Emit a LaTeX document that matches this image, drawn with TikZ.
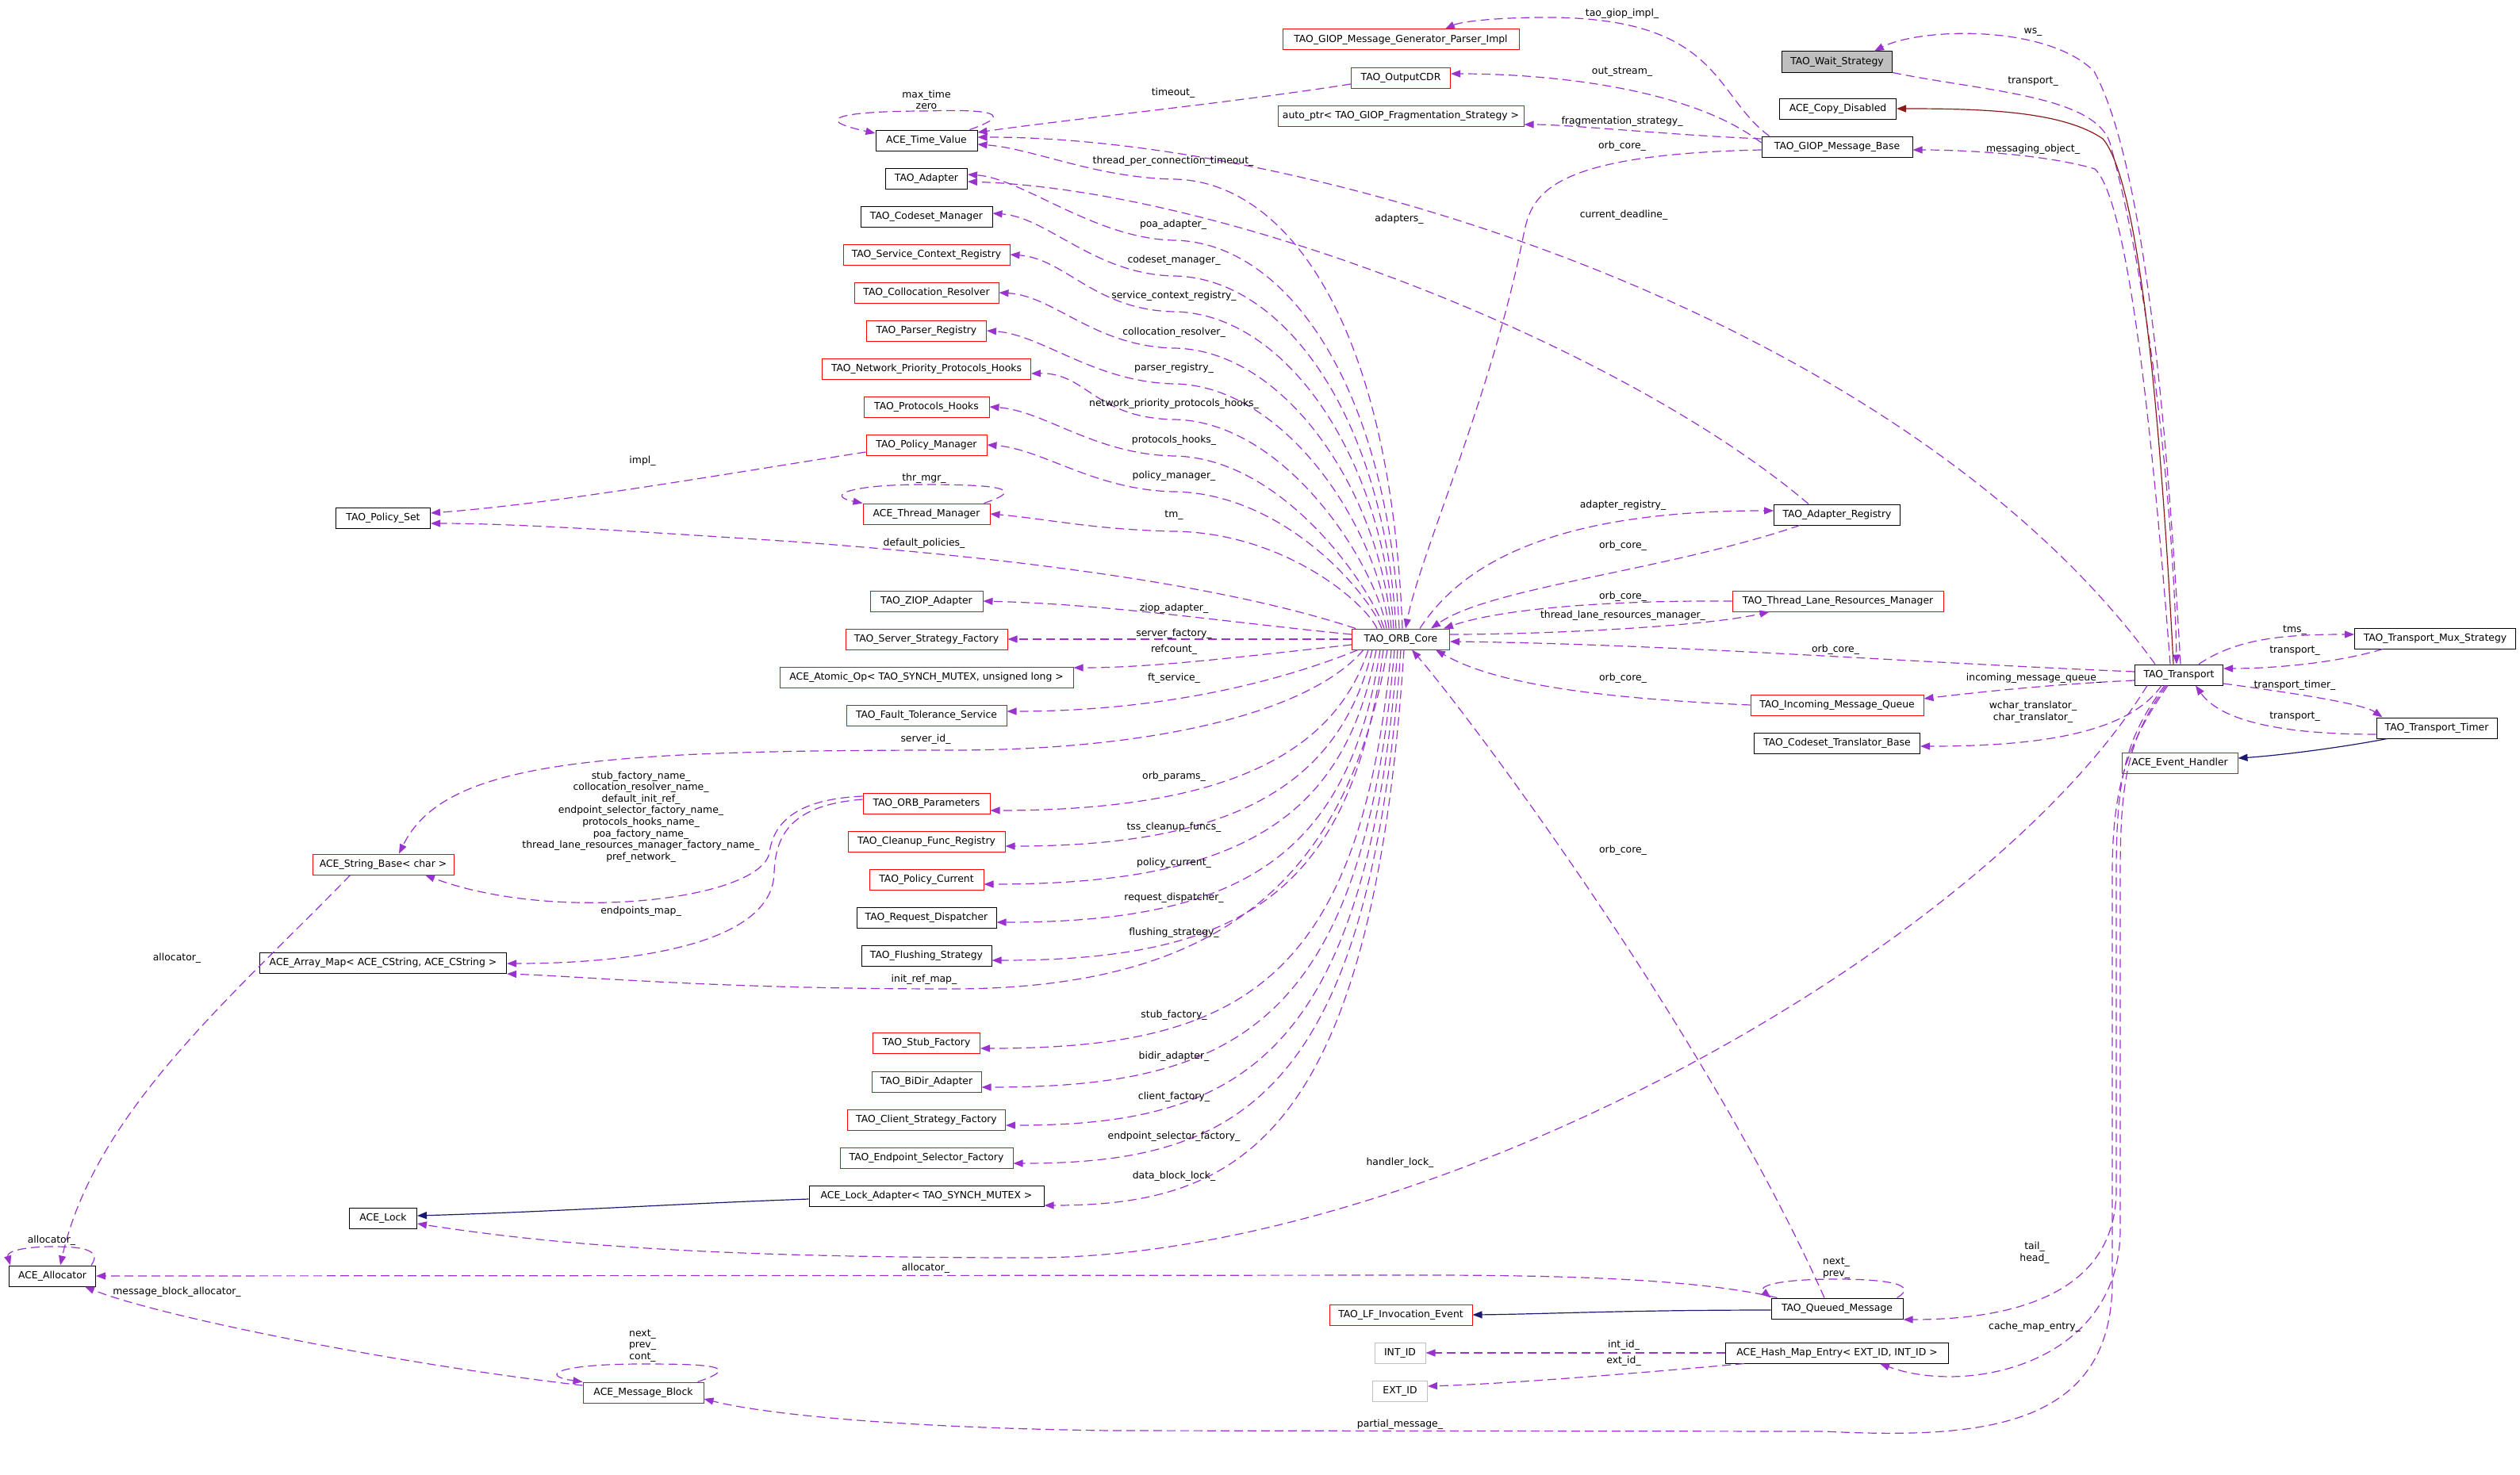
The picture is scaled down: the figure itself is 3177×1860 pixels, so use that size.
\documentclass[tikz,border=0pt]{standalone}
\usepackage{fontspec}
\setmainfont{DejaVu Sans}
\usetikzlibrary{arrows.meta,calc}
\definecolor{dorchid}{HTML}{9A32CD}
\definecolor{navyb}{HTML}{191970}
\definecolor{fbrick}{HTML}{8B1A1A}
\definecolor{grayb}{HTML}{BFBFBF}
\newcommand\dxf{\fontsize{12.4}{14.6}\selectfont}
\tikzset{
  clsbox/.style={draw=black, line width=1.0pt, fill=white, inner sep=0pt, minimum height=26pt, font=\dxf},
  cb/.style={clsbox},
  cr/.style={clsbox, draw=red},
  cg/.style={clsbox, draw=grayb},
  cf/.style={clsbox, fill=grayb},
  lb/.style={font=\dxf, inner sep=0pt, align=center},
  dep/.style={draw=dorchid, line width=1.2pt, dash pattern=on 11pt off 6pt, -{Triangle[length=12pt,width=9pt]}},
  inhn/.style={draw=navyb, line width=1.2pt, -{Triangle[length=12pt,width=9pt]}},
  inhr/.style={draw=fbrick, line width=1.2pt, -{Triangle[length=12pt,width=9pt]}},
}
\begin{document}
\begin{tikzpicture}[x=1pt,y=-1pt]
\fill[white] (0,0) rectangle (3177,1860);
\useasboundingbox (0,0) rectangle (3177,1860);

% ---------- nodes ----------
\node[cb, minimum width=128pt] (tv)   at (1168,177)  {ACE\_Time\_Value};
\node[cb, minimum width=103pt] (tad)  at (1168,225)  {TAO\_Adapter};
\node[cb, minimum width=166pt] (tcm)  at (1168,273)  {TAO\_Codeset\_Manager};
\node[cr, minimum width=210pt] (scr)  at (1168,321)  {TAO\_Service\_Context\_Registry};
\node[cr, minimum width=182pt] (clr)  at (1168,369)  {TAO\_Collocation\_Resolver};
\node[cr, minimum width=151pt] (prr)  at (1168,417)  {TAO\_Parser\_Registry};
\node[cr, minimum width=263pt] (nph)  at (1168,465)  {TAO\_Network\_Priority\_Protocols\_Hooks};
\node[cr, minimum width=158pt] (phk)  at (1168,513)  {TAO\_Protocols\_Hooks};
\node[cr, minimum width=152pt] (pmg)  at (1168,561)  {TAO\_Policy\_Manager};
\node[cr, minimum width=160pt] (thm)  at (1168,648)  {ACE\_Thread\_Manager};
\node[cb, minimum width=119pt] (pset) at (483,653)   {TAO\_Policy\_Set};
\node[cr, minimum width=142pt] (ziop) at (1168,758)  {TAO\_ZIOP\_Adapter};
\node[cr, minimum width=204pt] (ssf)  at (1168,806)  {TAO\_Server\_Strategy\_Factory};
\node[cr, minimum width=370pt] (aop)  at (1168,854)  {ACE\_Atomic\_Op< TAO\_SYNCH\_MUTEX, unsigned long >};
\node[cr, minimum width=202pt] (fts)  at (1168,902)  {TAO\_Fault\_Tolerance\_Service};
\node[cr, minimum width=160pt] (opar) at (1168,1013) {TAO\_ORB\_Parameters};
\node[cr, minimum width=178pt] (sbase) at (483,1090) {ACE\_String\_Base< char >};
\node[cr, minimum width=198pt] (cfr)  at (1168,1061) {TAO\_Cleanup\_Func\_Registry};
\node[cr, minimum width=144pt] (pcur) at (1168,1109) {TAO\_Policy\_Current};
\node[cb, minimum width=176pt] (rdis) at (1168,1157) {TAO\_Request\_Dispatcher};
\node[cb, minimum width=164pt] (fls)  at (1168,1205) {TAO\_Flushing\_Strategy};
\node[cb, minimum width=311pt] (amap) at (483,1214)  {ACE\_Array\_Map< ACE\_CString, ACE\_CString >};
\node[cr, minimum width=135pt] (stub) at (1168,1315) {TAO\_Stub\_Factory};
\node[cr, minimum width=138pt] (bidir) at (1168,1364) {TAO\_BiDir\_Adapter};
\node[cr, minimum width=199pt] (csf)  at (1168,1412) {TAO\_Client\_Strategy\_Factory};
\node[cr, minimum width=218pt] (esf)  at (1168,1460) {TAO\_Endpoint\_Selector\_Factory};
\node[cb, minimum width=296pt] (ladp) at (1168,1508) {ACE\_Lock\_Adapter< TAO\_SYNCH\_MUTEX >};
\node[cb, minimum width=85pt]  (lock) at (483,1536)  {ACE\_Lock};
\node[cb, minimum width=109pt] (alloc) at (66,1609)  {ACE\_Allocator};
\node[cr, minimum width=152pt] (mblk) at (811,1756)  {ACE\_Message\_Block};
\node[cr, minimum width=123pt] (orb)  at (1766,806)  {TAO\_ORB\_Core};
\node[cr, minimum width=298pt] (gpi)  at (1766,50)   {TAO\_GIOP\_Message\_Generator\_Parser\_Impl};
\node[cr, minimum width=125pt] (ocdr) at (1766,98)   {TAO\_OutputCDR};
\node[cr, minimum width=310pt] (aptr) at (1766,146)  {auto\_ptr< TAO\_GIOP\_Fragmentation\_Strategy >};
\node[cr, minimum width=180pt] (lfie) at (1766,1658) {TAO\_LF\_Invocation\_Event};
\node[cg, minimum width=64pt]  (intid) at (1765,1706) {INT\_ID};
\node[cg, minimum width=69pt]  (extid) at (1765,1754) {EXT\_ID};
\node[cf, minimum width=139pt] (ws)   at (2316,78)   {TAO\_Wait\_Strategy};
\node[cb, minimum width=147pt] (cpd)  at (2317,137)  {ACE\_Copy\_Disabled};
\node[cb, minimum width=190pt] (gmb)  at (2316,185)  {TAO\_GIOP\_Message\_Base};
\node[cb, minimum width=159pt] (areg) at (2316,649)  {TAO\_Adapter\_Registry};
\node[cr, minimum width=266pt] (tlrm) at (2317,758)  {TAO\_Thread\_Lane\_Resources\_Manager};
\node[cr, minimum width=218pt] (imq)  at (2316,889)  {TAO\_Incoming\_Message\_Queue};
\node[cb, minimum width=209pt] (ctb)  at (2316,937)  {TAO\_Codeset\_Translator\_Base};
\node[cb, minimum width=166pt] (qm)   at (2316,1650) {TAO\_Queued\_Message};
\node[cb, minimum width=281pt] (hme)  at (2316,1706) {ACE\_Hash\_Map\_Entry< EXT\_ID, INT\_ID >};
\node[cb, minimum width=111pt] (tr)   at (2747,851)  {TAO\_Transport};
\node[cb, minimum width=203pt] (tms)  at (3070,805)  {TAO\_Transport\_Mux\_Strategy};
\node[cb, minimum width=152pt] (ttim) at (3072,918)  {TAO\_Transport\_Timer};
\node[cr, minimum width=146pt] (evh)  at (2748,962)  {ACE\_Event\_Handler};

% ---------- ORB core upper fan ----------
\draw[dep] ($(orb.north)+(2,0)$) .. controls (1753,403) and (1620,228) .. (1480,226) .. controls (1380,224) and (1302,187) .. ($(tv.east)+(0,5)$);
\draw[dep] ($(orb.north)+(-2,0)$) .. controls (1749,483) and (1620,305) .. (1480,303) .. controls (1380,301) and (1290,225) .. ($(tad.east)+(0,-5)$);
\draw[dep] ($(orb.north)+(-6,0)$) .. controls (1745,528) and (1620,350) .. (1480,348) .. controls (1380,346) and (1321,274) .. ($(tcm.east)+(0,-4)$);
\draw[dep] ($(orb.north)+(-9,0)$) .. controls (1742,573) and (1620,395) .. (1480,393) .. controls (1380,391) and (1343,326) .. (scr.east);
\draw[dep] ($(orb.north)+(-12,0)$) .. controls (1739,619) and (1620,441) .. (1480,439) .. controls (1380,437) and (1329,373) .. (clr.east);
\draw[dep] ($(orb.north)+(-15,0)$) .. controls (1736,664) and (1620,486) .. (1480,484) .. controls (1380,482) and (1314,422) .. (prr.east);
\draw[dep] ($(orb.north)+(-18,0)$) .. controls (1733,709) and (1620,531) .. (1480,529) .. controls (1380,527) and (1370,470) .. ($(nph.east)+(0,6)$);
\draw[dep] ($(orb.north)+(-21,0)$) .. controls (1730,745) and (1620,577) .. (1480,575) .. controls (1380,573) and (1317,518) .. (phk.east);
\draw[dep] ($(orb.north)+(-24,0)$) .. controls (1727,750) and (1620,622) .. (1480,620) .. controls (1380,618) and (1314,566) .. (pmg.east);
\draw[dep] ($(orb.north)+(-30,0)$) .. controls (1721,760) and (1620,672) .. (1480,670) .. controls (1380,668) and (1318,654) .. (thm.east);
\draw[dep] ($(orb.north west)+(5,0)$) .. controls (1550,740) and (1300,705) .. (1000,683) .. controls (800,670) and (650,660) .. ($(pset.east)+(0,7)$);

% ---------- ORB core west ----------
\draw[dep] ($(orb.west)+(0,-6)$) .. controls (1550,785) and (1400,762) .. (ziop.east);
\draw[dep] (orb.west) -- (ssf.east);
\draw[dep] ($(orb.west)+(0,7)$) .. controls (1550,830) and (1450,842) .. ($(aop.east)+(0,-12)$);
\draw[dep] ($(orb.south west)+(8,0)$) .. controls (1600,865) and (1450,897) .. ($(fts.east)+(0,-5)$);
\draw[dep] ($(orb.south west)+(15,0)$) .. controls (1650,900) and (1450,946) .. (1200,946) .. controls (750,946) and (560,960) .. ($(sbase.north)+(20,0)$);

% ---------- ORB core lower fan ----------
\draw[dep] ($(orb.south)+(-41,0)$) .. controls (1685,942) and (1560,1022) .. ($(opar.east)+(0,9)$);
\draw[dep] ($(orb.south)+(-36,0)$) .. controls (1690,987) and (1560,1067) .. ($(cfr.east)+(0,6)$);
\draw[dep] ($(orb.south)+(-31,0)$) .. controls (1695,1035) and (1560,1115) .. ($(pcur.east)+(0,6)$);
\draw[dep] ($(orb.south)+(-26,0)$) .. controls (1700,1083) and (1560,1163) .. ($(rdis.east)+(0,6)$);
\draw[dep] ($(orb.south)+(-22,0)$) .. controls (1704,1131) and (1560,1211) .. ($(fls.east)+(0,6)$);
\draw[dep] ($(orb.south)+(-17,0)$) .. controls (1700,1100) and (1550,1247) .. (1200,1247) .. controls (900,1247) and (750,1232) .. ($(amap.east)+(0,14)$);
\draw[dep] ($(orb.south)+(-12,0)$) .. controls (1714,1242) and (1560,1322) .. ($(stub.east)+(0,7)$);
\draw[dep] ($(orb.south)+(-8,0)$) .. controls (1718,1291) and (1560,1371) .. ($(bidir.east)+(0,7)$);
\draw[dep] ($(orb.south)+(-4,0)$) .. controls (1722,1339) and (1560,1419) .. ($(csf.east)+(0,7)$);
\draw[dep] (orb.south) .. controls (1726,1387) and (1560,1467) .. ($(esf.east)+(0,7)$);
\draw[dep] ($(orb.south)+(4,0)$) .. controls (1730,1440) and (1560,1520) .. ($(ladp.east)+(0,12)$);

% ---------- Time value / adapter ----------
\draw[dep] ($(tv.north east)+(-10,0)$) .. controls (1290,140) and (1230,138) .. (1168,140) .. controls (1060,140) and (1020,150) .. ($(tv.west)+(0,-9)$);
\draw[dep] ($(ocdr.west)+(0,8)$) .. controls (1550,130) and (1350,150) .. ($(tv.east)+(0,-10)$);
\draw[dep] ($(tr.north)+(-30,0)$) .. controls (2400,400) and (1650,172) .. ($(tv.east)+(0,-4)$);
\draw[dep] ($(areg.north)+(-36,0)$) .. controls (2050,440) and (1550,240) .. ($(tad.east)+(0,4)$);

% ---------- GIOP ----------
\draw[dep] ($(gmb.north west)+(10,0)$) .. controls (2160,120) and (2170,22) .. (1950,22) .. controls (1880,22) and (1840,28) .. ($(gpi.north)+(56,0)$);
\draw[dep] ($(gmb.west)+(0,-5)$) .. controls (2130,110) and (1950,93) .. ($(ocdr.east)+(0,-5)$);
\draw[dep] ($(gmb.west)+(0,-10)$) .. controls (2100,170) and (1980,157) .. ($(aptr.east)+(0,11)$);
\draw[dep] ($(gmb.west)+(0,4)$) .. controls (1940,195) and (1930,250) .. (1920,300) .. controls (1880,500) and (1790,700) .. ($(orb.north)+(6,0)$);

% ---------- adapter registry / thread lanes / queues ----------
\draw[dep] ($(orb.north)+(24,0)$) .. controls (1850,700) and (1980,644) .. ($(areg.west)+(0,-5)$);
\draw[dep] ($(areg.south west)+(33,0)$) .. controls (2100,720) and (1880,740) .. ($(orb.north)+(38,0)$);
\draw[dep] (tlrm.west) .. controls (2050,757) and (1900,765) .. ($(orb.north)+(54,0)$);
\draw[dep] ($(orb.east)+(0,-6)$) .. controls (1950,800) and (2150,790) .. ($(tlrm.south west)+(47,0)$);
\draw[dep] ($(tr.west)+(0,-4)$) .. controls (2400,835) and (2100,812) .. ($(orb.east)+(0,3)$);
\draw[dep] (imq.west) .. controls (2000,880) and (1880,860) .. ($(orb.south east)+(-18,0)$);
\draw[dep] ($(qm.north)+(-16,0)$) .. controls (2150,1300) and (1850,900) .. ($(orb.south)+(14,0)$);

% ---------- transport ----------
\draw[dep] ($(tr.west)+(0,7)$) .. controls (2600,862) and (2500,872) .. ($(imq.east)+(0,-8)$);
\draw[dep] ($(tr.south)+(-22,0)$) .. controls (2680,930) and (2550,941) .. ($(ctb.east)+(0,4)$);
\draw[dep] ($(tr.south)+(-40,0)$) .. controls (2500,1200) and (1800,1586) .. (1300,1586) .. controls (900,1586) and (700,1570) .. ($(lock.east)+(0,7)$);
\draw[dep] ($(tr.south)+(-18,0)$) .. controls (2680,930) and (2668,980) .. (2668,1100) -- (2668,1500) .. controls (2668,1620) and (2560,1664) .. ($(qm.east)+(0,14)$);
\draw[dep] ($(tr.south)+(-16,0)$) .. controls (2684,930) and (2673,980) .. (2673,1100) -- (2673,1550) .. controls (2673,1720) and (2480,1760) .. ($(hme.south)+(54,0)$);
\draw[dep] ($(tr.south)+(-14,0)$) .. controls (2688,930) and (2663,980) .. (2663,1100) -- (2663,1620) .. controls (2660,1800) and (2500,1815) .. (2300,1805) -- (1400,1804) .. controls (1100,1800) and (950,1780) .. ($(mblk.east)+(0,8)$);
\draw[dep] ($(tr.north)+(2,0)$) .. controls (2730,500) and (2700,200) .. (2640,90) .. controls (2580,30) and (2420,35) .. ($(ws.north)+(47,0)$);
\draw[dep] (ws.south east) .. controls (2500,115) and (2640,120) .. (2660,180) .. controls (2720,400) and (2742,700) .. ($(tr.north)+(-3,0)$);
\draw[inhr] ($(tr.north)+(-7,0)$) .. controls (2720,450) and (2690,220) .. (2651,175) .. controls (2600,140) and (2500,137) .. (cpd.east);
\draw[dep] ($(tr.north)+(-11,0)$) .. controls (2710,500) and (2680,250) .. (2641,213) .. controls (2580,195) and (2480,189) .. ($(gmb.east)+(0,4)$);
\draw[dep] ($(tr.north)+(25,0)$) .. controls (2820,805) and (2880,800) .. ($(tms.west)+(0,-5)$);
\draw[dep] ($(tms.south west)+(36,0)$) .. controls (2950,835) and (2870,843) .. ($(tr.east)+(0,-8)$);
\draw[dep] ($(tr.east)+(0,11)$) .. controls (2900,875) and (2980,888) .. ($(ttim.north west)+(8,0)$);
\draw[dep] ($(ttim.west)+(0,8)$) .. controls (2880,926) and (2800,910) .. ($(tr.south)+(21,0)$);
\draw[inhn] ($(ttim.south west)+(14,0)$) .. controls (2950,943) and (2870,953) .. ($(evh.east)+(0,-6)$);

% ---------- queued message / hash map ----------
\draw[dep] ($(qm.north east)+(-8,0)$) .. controls (2420,1620) and (2380,1613) .. (2315,1613) .. controls (2240,1613) and (2215,1622) .. (qm.north west);
\draw[dep] ($(qm.north west)+(8,0)$) .. controls (2150,1615) and (2000,1608) .. (1800,1608) -- (alloc.east);
\draw[inhn] ($(qm.west)+(0,2)$) .. controls (2050,1652) and (1950,1657) .. (lfie.east);
\draw[dep] (hme.west) -- (intid.east);
\draw[dep] ($(hme.south west)+(24,0)$) .. controls (2060,1732) and (1900,1745) .. ($(extid.east)+(0,-6)$);

% ---------- left bottom ----------
\draw[dep] ($(sbase.south west)+(48,0)$) .. controls (300,1250) and (120,1400) .. ($(alloc.north)+(10,0)$);
\draw[dep] ($(alloc.north east)+(-6,0)$) .. controls (130,1575) and (100,1572) .. (67,1572) .. controls (30,1572) and (8,1578) .. ($(alloc.north west)+(2,0)$);
\draw[dep] ($(mblk.west)+(0,-9)$) .. controls (500,1720) and (200,1660) .. ($(alloc.south)+(41,0)$);
\draw[dep] ($(mblk.north east)+(-8,0)$) .. controls (940,1722) and (890,1720) .. (810,1720) .. controls (700,1720) and (680,1735) .. (mblk.north west);
\draw[dep] ($(opar.west)+(0,-9)$) .. controls (1000,1008) and (975,1040) .. (970,1075) .. controls (960,1135) and (700,1165) .. ($(sbase.south)+(53,0)$);
\draw[dep] ($(opar.west)+(0,-5)$) .. controls (1000,1015) and (978,1050) .. (976,1100) .. controls (975,1190) and (800,1215) .. ($(amap.east)+(0,1)$);
\draw[dep] ($(pmg.west)+(0,9)$) .. controls (900,600) and (700,635) .. ($(pset.east)+(0,-6)$);
\draw[dep] ($(thm.north east)+(-8,0)$) .. controls (1300,615) and (1250,611) .. (1165,611) .. controls (1070,611) and (1040,625) .. (thm.north west);
\draw[inhn] ($(ladp.west)+(0,4)$) .. controls (850,1518) and (700,1528) .. ($(lock.east)+(0,-3)$);

% ---------- labels ----------
\node[lb] (l1)  at (1168,126) {max\_time\\zero};
\node[lb] (l2)  at (1479,117) {timeout\_};
\node[lb] (l3)  at (1479,203) {thread\_per\_connection\_timeout\_};
\node[lb] (l4)  at (1479,283) {poa\_adapter\_};
\node[lb] (l5)  at (1764,276) {adapters\_};
\node[lb] (l6)  at (1480,328) {codeset\_manager\_};
\node[lb] (l7)  at (1480,373) {service\_context\_registry\_};
\node[lb] (l8)  at (1480,419) {collocation\_resolver\_};
\node[lb] (l9)  at (1480,464) {parser\_registry\_};
\node[lb] (l10) at (1480,509) {network\_priority\_protocols\_hooks\_};
\node[lb] (l11) at (1480,555) {protocols\_hooks\_};
\node[lb] (l12) at (1480,600) {policy\_manager\_};
\node[lb] (l13) at (1480,650) {tm\_};
\node[lb] (l14) at (810,581)  {impl\_};
\node[lb] (l15) at (1165,603) {thr\_mgr\_};
\node[lb] (l16) at (1165,685) {default\_policies\_};
\node[lb] (l17) at (1480,767) {ziop\_adapter\_};
\node[lb] (l18) at (1480,799) {server\_factory\_};
\node[lb] (l19) at (1480,819) {refcount\_};
\node[lb] (l20) at (1480,855) {ft\_service\_};
\node[lb] (l21) at (1167,932) {server\_id\_};
\node[lb] (l22) at (808,1030) {stub\_factory\_name\_\\collocation\_resolver\_name\_\\default\_init\_ref\_\\endpoint\_selector\_factory\_name\_\\protocols\_hooks\_name\_\\poa\_factory\_name\_\\thread\_lane\_resources\_manager\_factory\_name\_\\pref\_network\_};
\node[lb] (l23) at (808,1149) {endpoints\_map\_};
\node[lb] (l24) at (1480,979) {orb\_params\_};
\node[lb] (l25) at (1480,1043) {tss\_cleanup\_funcs\_};
\node[lb] (l26) at (1480,1088) {policy\_current\_};
\node[lb] (l27) at (1480,1132) {request\_dispatcher\_};
\node[lb] (l28) at (1480,1176) {flushing\_strategy\_};
\node[lb] (l29) at (1165,1235) {init\_ref\_map\_};
\node[lb] (l30) at (223,1208) {allocator\_};
\node[lb] (l31) at (1480,1280) {stub\_factory\_};
\node[lb] (l32) at (1480,1332) {bidir\_adapter\_};
\node[lb] (l33) at (1480,1383) {client\_factory\_};
\node[lb] (l34) at (1480,1433) {endpoint\_selector\_factory\_};
\node[lb] (l35) at (1480,1483) {data\_block\_lock\_};
\node[lb] (l36) at (1765,1466) {handler\_lock\_};
\node[lb] (l37) at (65,1564)  {allocator\_};
\node[lb] (l38) at (1167,1599) {allocator\_};
\node[lb] (l39) at (223,1629) {message\_block\_allocator\_};
\node[lb] (l40) at (810,1697) {next\_\\prev\_\\cont\_};
\node[lb] (l41) at (2315,1599) {next\_\\prev\_};
\node[lb] (l42) at (2565,1580) {tail\_\\head\_};
\node[lb] (l43) at (2565,1673) {cache\_map\_entry\_};
\node[lb] (l44) at (2047,1696) {int\_id\_};
\node[lb] (l45) at (2047,1716) {ext\_id\_};
\node[lb] (l46) at (1765,1796) {partial\_message\_};
\node[lb] (l47) at (2045,17)  {tao\_giop\_impl\_};
\node[lb] (l48) at (2045,91)  {out\_stream\_};
\node[lb] (l49) at (2045,153) {fragmentation\_strategy\_};
\node[lb] (l50) at (2045,184) {orb\_core\_};
\node[lb] (l51) at (2047,271) {current\_deadline\_};
\node[lb] (l52) at (2563,40)  {ws\_};
\node[lb] (l53) at (2563,103) {transport\_};
\node[lb] (l54) at (2563,188) {messaging\_object\_};
\node[lb] (l55) at (2046,637) {adapter\_registry\_};
\node[lb] (l56) at (2046,688) {orb\_core\_};
\node[lb] (l57) at (2046,752) {orb\_core\_};
\node[lb] (l58) at (2046,776) {thread\_lane\_resources\_manager\_};
\node[lb] (l59) at (2314,819) {orb\_core\_};
\node[lb] (l60) at (2046,855) {orb\_core\_};
\node[lb] (l61) at (2564,855) {incoming\_message\_queue\_};
\node[lb] (l62) at (2563,898) {wchar\_translator\_\\char\_translator\_};
\node[lb] (l63) at (2046,1072) {orb\_core\_};
\node[lb] (l64) at (2893,795) {tms\_};
\node[lb] (l65) at (2893,821) {transport\_};
\node[lb] (l66) at (2893,864) {transport\_timer\_};
\node[lb] (l67) at (2893,904) {transport\_};
\end{tikzpicture}
\end{document}
